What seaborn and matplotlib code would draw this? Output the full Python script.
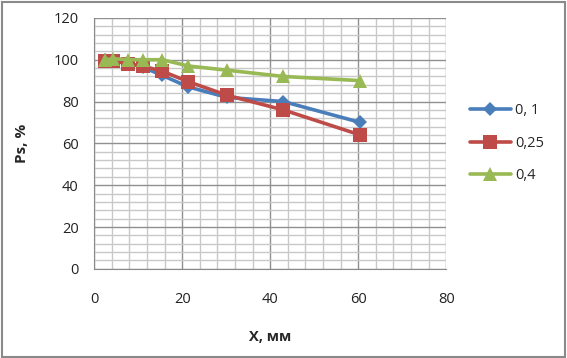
import numpy as np
import pandas as pd
import matplotlib
matplotlib.use("Agg")
import matplotlib.pyplot as plt
import seaborn as sns
from matplotlib.ticker import MultipleLocator

# values
x_mm = [2.5, 4.3, 7.7, 11, 15.5, 21.4, 30.2, 43, 60.5]
ps_01 = [100, 99.5, 98.5, 96.5, 92.5, 87, 82, 80, 70]
ps_025 = [99.5, 99.5, 98, 97, 94.5, 89.5, 83, 76, 64]
ps_04 = [100, 100.5, 100, 100, 100, 97, 95, 92, 90]
labels = ["0, 1", "0,25", "0,4"]

df = pd.concat([
    pd.DataFrame({"x": x_mm, "ps": ps_01, "s": labels[0]}),
    pd.DataFrame({"x": x_mm, "ps": ps_025, "s": labels[1]}),
    pd.DataFrame({"x": x_mm, "ps": ps_04, "s": labels[2]}),
])

sns.set_style("white")
plt.rcParams["font.family"] = ["Open Sans", "DejaVu Sans"]

fig = plt.figure(figsize=(5.67, 3.58), dpi=100)
ax = fig.add_axes([0.166, 0.249, 0.621, 0.701])

colors = ["#4A7EBB", "#BE4B48", "#98B954"]
markers = ["D", "s", "^"]
sizes = [7, 10, 10]
for lab, c, m, ms in zip(labels, colors, markers, sizes):
    sub = df[df["s"] == lab]
    sns.lineplot(data=sub, x="x", y="ps", ax=ax, color=c, marker=m,
                 markersize=ms, markeredgewidth=0, linewidth=2.6,
                 label=lab, zorder=3)

ax.set_xlim(0, 80)
ax.set_ylim(0, 120)
ax.xaxis.set_major_locator(MultipleLocator(20))
ax.yaxis.set_major_locator(MultipleLocator(20))
ax.xaxis.set_minor_locator(MultipleLocator(4))
ax.yaxis.set_minor_locator(MultipleLocator(4))
ax.grid(which="major", color="#909090", linewidth=1.0)
ax.grid(which="minor", color="#c8c8c8", linewidth=1.0)
ax.set_axisbelow(True)

for side in ["top", "right"]:
    ax.spines[side].set_visible(False)
for side in ["left", "bottom"]:
    ax.spines[side].set_color("#8a8a8a")
ax.tick_params(which="major", direction="out", length=5, color="#8a8a8a",
               labelsize=10.5, labelcolor="#222222", pad=6)
ax.tick_params(which="minor", length=0)
ax.tick_params(axis="x", pad=12)

ax.set_xlabel("X, мм", fontsize=10.5, fontweight="bold", labelpad=16)
ax.set_ylabel("Ps, %", fontsize=11, fontweight="bold", labelpad=18)

ax.legend(loc="center left", bbox_to_anchor=(1.03, 0.5), frameon=False,
          fontsize=10.5, handlelength=2.8, labelspacing=1.2, handletextpad=0.3)

fig.patches.append(plt.Rectangle((0.003, 0.004), 0.994, 0.99, transform=fig.transFigure,
                                 fill=False, edgecolor="#8a8a8a", linewidth=1.5))

fig.savefig("out.png", dpi=100)
